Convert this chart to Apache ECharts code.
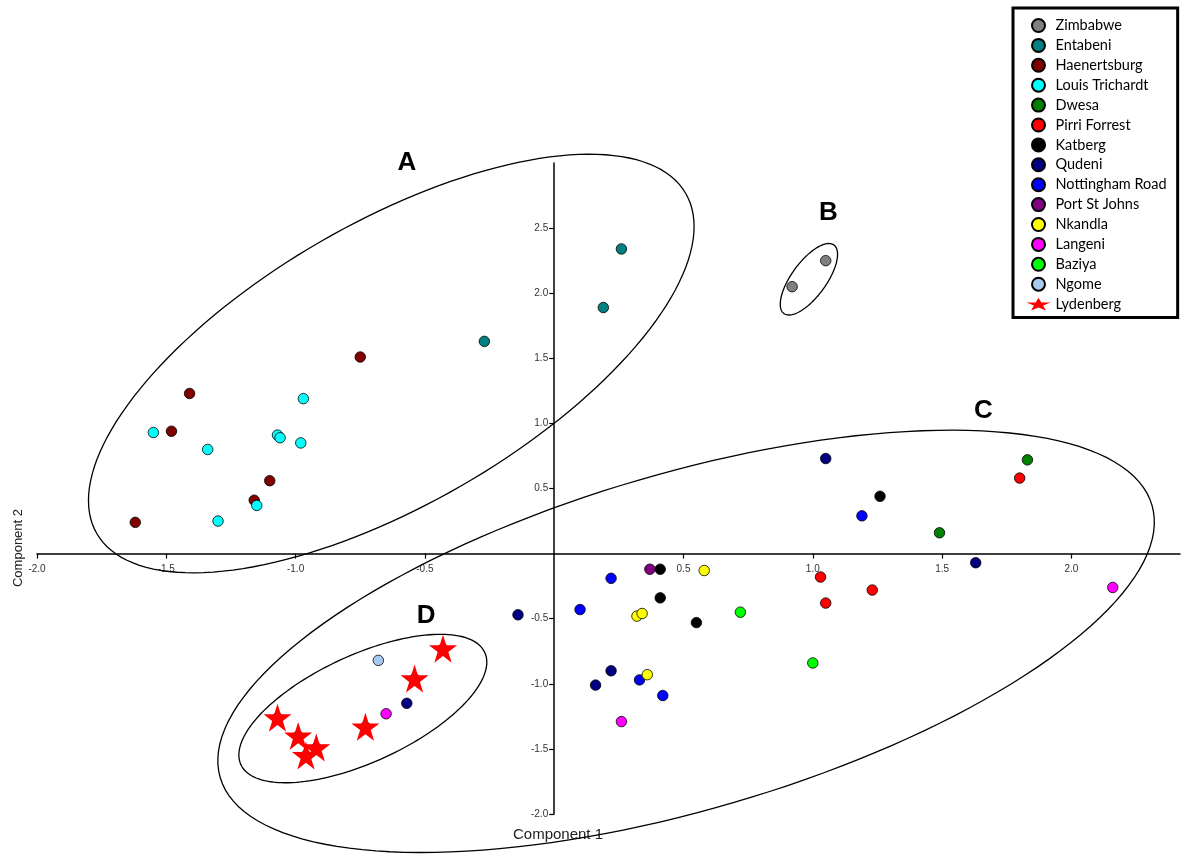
<!DOCTYPE html>
<html>
<head>
<meta charset="UTF-8">
<title>Component plot</title>
<script src="https://cdn.jsdelivr.net/npm/echarts@6/dist/echarts.min.js"></script>
<style>
  html, body { margin: 0; padding: 0; background: #fff; }
  #main { width: 1181px; height: 854px; }
</style>
</head>
<body>
<div id="main"></div>
<script>
// site scores [component 1, component 2]
var zimbabwe = [[0.92, 2.05], [1.05, 2.25]];
var entabeni = [[0.26, 2.34], [0.19, 1.89], [-0.27, 1.63]];
var haenertsburg = [[-0.75, 1.51], [-1.41, 1.23], [-1.48, 0.94], [-1.10, 0.56], [-1.16, 0.41], [-1.62, 0.24]];
var louisTrichardt = [[-0.97, 1.19], [-1.55, 0.93], [-1.07, 0.91], [-1.06, 0.89], [-0.98, 0.85], [-1.34, 0.80], [-1.15, 0.37], [-1.30, 0.25]];
var dwesa = [[1.83, 0.72], [1.49, 0.16]];
var pirriForrest = [[1.80, 0.58], [1.03, -0.18], [1.05, -0.38], [1.23, -0.28]];
var katberg = [[1.26, 0.44], [0.41, -0.12], [0.41, -0.34], [0.55, -0.53]];
var qudeni = [[1.05, 0.73], [1.63, -0.07], [-0.14, -0.47], [0.22, -0.90], [0.16, -1.01], [-0.57, -1.15]];
var nottingham = [[1.19, 0.29], [0.22, -0.19], [0.10, -0.43], [0.33, -0.97], [0.42, -1.09]];
var portStJohns = [[0.37, -0.12]];
var nkandla = [[0.58, -0.13], [0.32, -0.48], [0.34, -0.46], [0.36, -0.93]];
var langeni = [[2.16, -0.26], [0.26, -1.29], [-0.65, -1.23]];
var baziya = [[0.72, -0.45], [1.00, -0.84]];
var ngome = [[-0.68, -0.82]];
var lydenberg = [[-0.43, -0.73], [-0.54, -0.96], [-1.07, -1.26], [-0.99, -1.40], [-0.92, -1.49], [-0.96, -1.55], [-0.73, -1.33]];

var xTicks = [-2.0, -1.5, -1.0, -0.5, 0.5, 1.0, 1.5, 2.0];
var yTicks = [-2.0, -1.5, -1.0, -0.5, 0.5, 1.0, 1.5, 2.0, 2.5];

// group ellipses (centre in data units, radii in x-units, screen angle)
var ellipses = [
  { name: 'A', center: [-0.63, 1.46], rx: 1.315, ry: 0.545, angle: -30, text: [-0.57, 3.0] },
  { name: 'B', center: [0.985, 2.107], rx: 0.164, ry: 0.067, angle: -53.9, text: [1.06, 2.615] },
  { name: 'C', center: [0.51, -0.674], rx: 1.877, ry: 0.65, angle: -16.3, text: [1.66, 1.10] },
  { name: 'D', center: [-0.74, -1.19], rx: 0.519, ry: 0.207, angle: -24.7, text: [-0.495, -0.48] }
];

var sites = [
  { name: 'Zimbabwe', data: zimbabwe, color: '#808080' },
  { name: 'Entabeni', data: entabeni, color: '#008080' },
  { name: 'Haenertsburg', data: haenertsburg, color: '#800000' },
  { name: 'Louis Trichardt', data: louisTrichardt, color: '#00ffff' },
  { name: 'Dwesa', data: dwesa, color: '#008000' },
  { name: 'Pirri Forrest', data: pirriForrest, color: '#ff0000' },
  { name: 'Katberg', data: katberg, color: '#000000' },
  { name: 'Qudeni', data: qudeni, color: '#000080' },
  { name: 'Nottingham Road', data: nottingham, color: '#0000ff' },
  { name: 'Port St Johns', data: portStJohns, color: '#800080' },
  { name: 'Nkandla', data: nkandla, color: '#ffff00' },
  { name: 'Langeni', data: langeni, color: '#ff00ff' },
  { name: 'Baziya', data: baziya, color: '#00ff00' },
  { name: 'Ngome', data: ngome, color: '#a6caf0' }
];

var starPath = 'path://M100,0 L122.45,69.1 L195.1,69.1 L136.3,111.8 L158.8,180.9 L100,138.2 L41.2,180.9 L63.7,111.8 L4.9,69.1 L77.55,69.1 Z';
// flattened star for the legend icon
var wideStar = 'path://M100,0 L122.45,38 L195.1,38 L136.3,61.5 L158.8,99.5 L100,76 L41.2,99.5 L63.7,61.5 L4.9,38 L77.55,38 Z';

var series = [];
sites.forEach(function (s) {
  series.push({
    name: s.name,
    type: 'scatter',
    data: s.data,
    symbol: 'circle',
    symbolSize: 10.5,
    itemStyle: { color: s.color, borderColor: '#000', borderWidth: 0.8, opacity: 1 }
  });
});
series.push({
  name: 'Lydenberg',
  type: 'scatter',
  data: lydenberg,
  symbol: starPath,
  symbolSize: 28,
  z: 4,
  itemStyle: { color: '#ff0000', opacity: 1 }
});
series.push({
  name: 'Lydenberg',
  type: 'scatter',
  data: lydenberg,
  symbol: 'circle',
  symbolSize: 10,
  z: 3,
  itemStyle: { color: '#7a6a10', borderColor: '#000', borderWidth: 0.8, opacity: 1 }
});
series.push({
  type: 'custom',
  silent: true,
  clip: false,
  z: 1,
  data: ellipses.map(function (e) { return [e.center[0], e.center[1]]; }),
  renderItem: function (params, api) {
    var e = ellipses[params.dataIndex];
    var c = api.coord([api.value(0), api.value(1)]);
    var unit = api.size([1, 0])[0];
    var a = e.rx * unit, b = e.ry * unit;
    var th = e.angle * Math.PI / 180;
    var pts = [];
    for (var i = 0; i < 160; i++) {
      var t = i / 160 * Math.PI * 2;
      pts.push([
        c[0] + a * Math.cos(t) * Math.cos(th) - b * Math.sin(t) * Math.sin(th),
        c[1] + a * Math.cos(t) * Math.sin(th) + b * Math.sin(t) * Math.cos(th)
      ]);
    }
    var tp = api.coord(e.text);
    return {
      type: 'group',
      children: [
        { type: 'polygon', shape: { points: pts }, style: { fill: 'none', stroke: '#000', lineWidth: 1.3 } },
        { type: 'text', x: tp[0], y: tp[1], style: { text: e.name, font: 'bold 26px "Liberation Sans", Arial', fill: '#000', align: 'center', verticalAlign: 'middle' } }
      ]
    };
  }
});

var legendNames = sites.map(function (s) { return s.name; });
var legendData = legendNames.map(function (n) { return { name: n }; });
legendData.push({ name: 'Lydenberg', icon: wideStar });

var grid = { left: 37, right: 1, top: 163, bottom: 40 };

var chart = echarts.init(document.getElementById('main'));
chart.setOption({
  animation: false,
  backgroundColor: '#fff',
  grid: grid,
  xAxis: {
    type: 'value',
    min: -2.0,
    max: 2.42,
    interval: 0.5,
    splitLine: { show: false },
    axisLine: { onZero: false, lineStyle: { color: '#000', width: 1.5 } },
    axisTick: { length: 5, customValues: xTicks, lineStyle: { color: '#000', width: 1.2 } },
    axisLabel: {
      customValues: xTicks, margin: 11, color: '#333', fontSize: 10,
      fontFamily: '"Liberation Sans", Arial',
      formatter: function (v) { return v.toFixed(1); }
    }
  },
  yAxis: {
    type: 'value',
    min: -2.0,
    max: 3.0,
    interval: 0.5,
    splitLine: { show: false },
    axisLine: { onZero: false, lineStyle: { color: '#000', width: 1.5 } },
    axisTick: { length: 5, customValues: yTicks, lineStyle: { color: '#000', width: 1.2 } },
    axisLabel: {
      customValues: yTicks, margin: 6, color: '#333', fontSize: 10,
      fontFamily: '"Liberation Sans", Arial',
      formatter: function (v) { return v.toFixed(1); }
    }
  },
  legend: {
    orient: 'vertical',
    left: 1013,
    top: 8,
    padding: [10, 11, 6, 13.5],
    itemWidth: 24,
    itemHeight: 13,
    itemGap: 4.9,
    backgroundColor: '#fff',
    borderColor: '#000',
    borderWidth: 3,
    textStyle: { fontFamily: 'Lato', fontSize: 14.5, color: '#000' },
    data: legendData
  },
  graphic: [
    { type: 'text', x: 558, y: 835, style: { text: 'Component 1', font: '15px "Liberation Sans", Arial', fill: '#222', align: 'center', verticalAlign: 'middle' } },
    { type: 'text', x: 18, y: 548, rotation: Math.PI / 2, style: { text: 'Component 2', font: '13px "Liberation Sans", Arial', fill: '#222', align: 'center', verticalAlign: 'middle' } }
  ],
  series: series
});

// move both axes through the origin (labels travel with them)
var origin = chart.convertToPixel({ gridIndex: 0 }, [0, 0]);
chart.setOption({
  xAxis: { offset: origin[1] - (854 - grid.bottom) },
  yAxis: { offset: -(origin[0] - grid.left) }
});
</script>
</body>
</html>
